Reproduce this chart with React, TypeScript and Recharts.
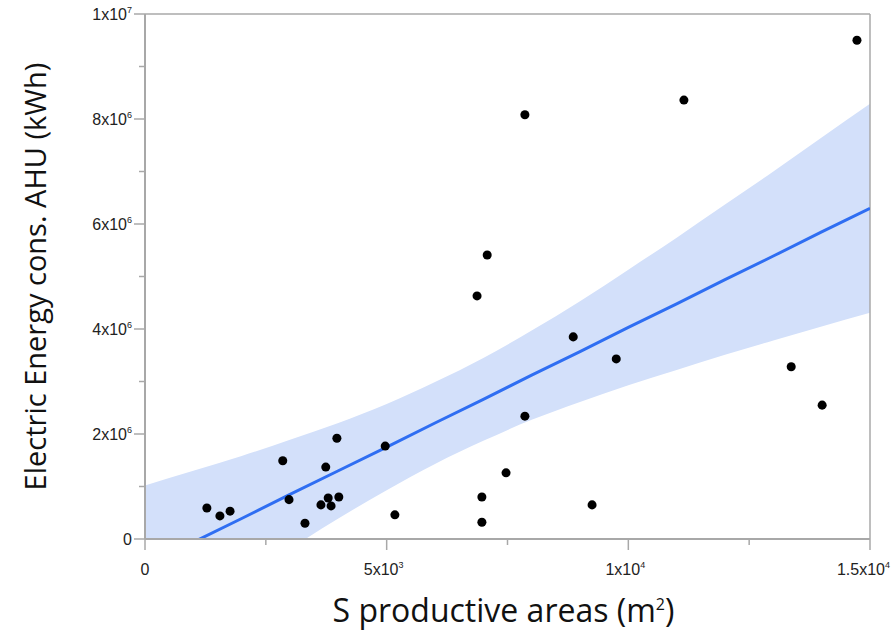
import {
  ComposedChart,
  Scatter,
  Line,
  Area,
  XAxis,
  YAxis,
  ReferenceLine,
} from "recharts";

// measured buildings: productive surface (m2) vs AHU electric energy (kWh)
const areas = [
  1280, 1550, 1760, 2850, 2980, 3310, 3640, 3740, 3790, 3850, 3970, 4010,
  4970, 5170, 6870, 6970, 6970, 7080, 7470, 7860, 7860, 8860, 9250, 9750,
  11150, 13370, 14010, 14730,
];
const energy = [
  590000, 440000, 530000, 1490000, 750000, 300000, 650000, 1370000, 780000,
  630000, 1920000, 800000, 1770000, 460000, 4630000, 800000, 320000, 5410000,
  1260000, 8080000, 2340000, 3850000, 650000, 3430000, 8360000, 3280000,
  2550000, 9500000,
];

// regression line and 95% band
const fitX = [
  0, 1000, 2000, 3000, 4000, 5000, 6000, 7000, 8000, 9000, 10000, 11000,
  12000, 13000, 14000, 15000,
];
const fitY = [
  -520000, -60000, 390000, 850000, 1300000, 1750000, 2210000, 2660000,
  3120000, 3570000, 4030000, 4480000, 4940000, 5390000, 5850000, 6300000,
];
const bandLow = [
  -2060000, -1420000, -800000, -190000, 390000, 930000, 1430000, 1870000,
  2270000, 2610000, 2930000, 3220000, 3510000, 3780000, 4050000, 4310000,
];
const bandHigh = [
  1020000, 1300000, 1580000, 1890000, 2210000, 2570000, 2990000, 3450000,
  3970000, 4530000, 5130000, 5740000, 6370000, 7000000, 7650000, 8290000,
];

const xTicks = [0, 2500, 5000, 7500, 10000, 12500, 15000];
const yTicks = [
  0, 1000000, 2000000, 3000000, 4000000, 5000000, 6000000, 7000000, 8000000,
  9000000, 10000000,
];
const xLabels: Record<number, [string, string]> = {
  0: ["0", ""],
  5000: ["5x10", "3"],
  10000: ["1x10", "4"],
  15000: ["1.5x10", "4"],
};
const yLabels: Record<number, [string, string]> = {
  0: ["0", ""],
  2000000: ["2x10", "6"],
  4000000: ["4x10", "6"],
  6000000: ["6x10", "6"],
  8000000: ["8x10", "6"],
  10000000: ["1x10", "7"],
};

const points = areas.map((x, i) => ({ x, y: energy[i] }));
const fitData = fitX.map((x, i) => ({
  x,
  fit: fitY[i],
  band: [bandLow[i], bandHigh[i]],
}));

const AXIS = "#a8a8a8";
const TICK_FONT = "'Liberation Sans', Arial, sans-serif";
const TITLE_FONT = "'Open Sans', 'Noto Sans', sans-serif";

function TickText({ x, y, anchor, label }: any) {
  return (
    <text x={x} y={y} textAnchor={anchor} fill="#222" fontSize={16} fontFamily={TICK_FONT}>
      <tspan>{label[0]}</tspan>
      {label[1] && (
        <tspan dy={-7} fontSize={9}>
          {label[1]}
        </tspan>
      )}
    </text>
  );
}

function XTick(props: any) {
  const { x, y, payload } = props;
  const label = xLabels[payload.value];
  const last = payload.value === 15000;
  return (
    <g>
      <line x1={x} x2={x} y1={y} y2={y + (label ? 11 : 6)} stroke={AXIS} strokeWidth={1.5} />
      {label && (
        <TickText
          x={last ? x + 20 : x - (label[1] ? 3 : 0)}
          y={y + 36}
          anchor={last ? "end" : "middle"}
          label={label}
        />
      )}
    </g>
  );
}

function YTick(props: any) {
  const { x, y, payload } = props;
  const label = yLabels[payload.value];
  return (
    <g>
      <line x1={x - (label ? 11 : 6)} x2={x} y1={y} y2={y} stroke={AXIS} strokeWidth={1.5} />
      {label && <TickText x={x - 13} y={y + 6} anchor="end" label={label} />}
    </g>
  );
}

function XTitle(props: any) {
  const vb = props.viewBox;
  return (
    <text x={vb.x + vb.width / 2 - 4} y={vb.y + 83} textAnchor="middle" fontSize={32} fontFamily={TITLE_FONT} fill="#111">
      S productive areas (m
      <tspan dy={-12} fontSize={16}>2</tspan>
      <tspan dy={12}>)</tspan>
    </text>
  );
}

function YTitle(props: any) {
  const vb = props.viewBox;
  const cx = 46;
  const cy = vb.y + vb.height / 2;
  return (
    <text
      x={cx}
      y={cy}
      transform={`rotate(-90 ${cx} ${cy})`}
      textAnchor="middle"
      fontSize={29}
      fontFamily={TITLE_FONT}
      fill="#111"
    >
      Electric Energy cons. AHU (kWh)
    </text>
  );
}

export default function App() {
  return (
    <div style={{ position: "absolute", left: 0, top: 0 }}>
      <ComposedChart
        width={894}
        height={630}
        data={fitData}
        margin={{ top: 14, right: 24, left: 0, bottom: 0 }}
      >
        <XAxis
          type="number"
          dataKey="x"
          domain={[0, 15000]}
          ticks={xTicks}
          height={91}
          tickSize={0}
          tickMargin={0}
          tickLine={false}
          tick={<XTick />}
          axisLine={{ stroke: AXIS, strokeWidth: 2 }}
          allowDataOverflow
          label={XTitle}
        />
        <YAxis
          type="number"
          domain={[0, 10000000]}
          ticks={yTicks}
          width={145}
          tickSize={0}
          tickMargin={0}
          tickLine={false}
          tick={<YTick />}
          axisLine={{ stroke: AXIS, strokeWidth: 2 }}
          allowDataOverflow
          label={YTitle}
        />
        <ReferenceLine y={10000000} stroke={AXIS} strokeWidth={1.5} />
        <ReferenceLine x={15000} stroke={AXIS} strokeWidth={1.5} />
        <Area
          type="monotone"
          dataKey="band"
          fill="#d3e0fa"
          fillOpacity={1}
          stroke="none"
          isAnimationActive={false}
          activeDot={false}
        />
        <Line
          type="linear"
          dataKey="fit"
          stroke="#2f6ef2"
          strokeWidth={3}
          dot={false}
          activeDot={false}
          isAnimationActive={false}
        />
        <Scatter data={points} dataKey="y" fill="#000" shape="circle" isAnimationActive={false} />
      </ComposedChart>
    </div>
  );
}
